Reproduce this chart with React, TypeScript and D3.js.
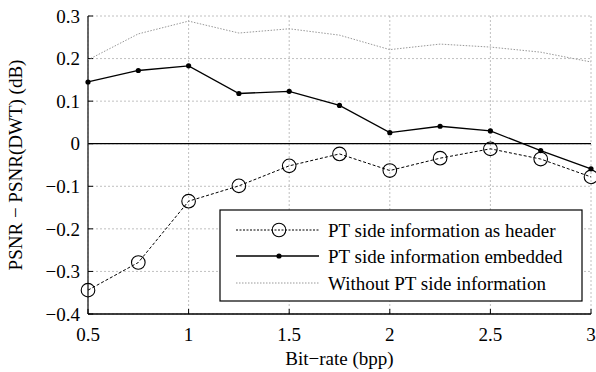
import React, { useEffect, useRef } from 'react';
import * as d3 from 'd3';

const bitRates = [0.5, 0.75, 1, 1.25, 1.5, 1.75, 2, 2.25, 2.5, 2.75, 3];
const asHeader = [-0.344, -0.279, -0.135, -0.099, -0.052, -0.024, -0.063, -0.034, -0.012, -0.036, -0.078];
const embedded = [0.145, 0.172, 0.183, 0.118, 0.123, 0.09, 0.026, 0.041, 0.03, -0.016, -0.059];
const withoutPT = [0.197, 0.258, 0.288, 0.26, 0.27, 0.255, 0.221, 0.234, 0.227, 0.215, 0.192];
const xTicks = [0.5, 1, 1.5, 2, 2.5, 3];
const yTicks = [-0.4, -0.3, -0.2, -0.1, 0, 0.1, 0.2, 0.3];
const legendNames = ['PT side information as header', 'PT side information embedded', 'Without PT side information'];

const W = 596, H = 372;
const m = { left: 88, right: 5, top: 16, bottom: 58 };
const font = "'Liberation Serif', 'DejaVu Serif', Times, serif";

function fmt(v: number) {
  const s = d3.format('.1~f')(Math.abs(v));
  return v < 0 ? '\u2212' + s : s;
}

export default function App() {
  const ref = useRef<SVGSVGElement>(null);

  useEffect(() => {
    const svg = d3.select(ref.current);
    svg.selectAll('*').remove();

    const x = d3.scaleLinear().domain([0.5, 3]).range([m.left, W - m.right]);
    const y = d3.scaleLinear().domain([-0.4, 0.3]).range([H - m.bottom, m.top]);
    const x0 = x.range()[0], x1 = x.range()[1], y0 = y.range()[0], y1 = y.range()[1];

    // grid
    const grid = svg.append('g').attr('stroke', '#b0b0b0').attr('stroke-width', 0.8).attr('stroke-dasharray', '2,2');
    xTicks.forEach(t => grid.append('line').attr('x1', x(t)).attr('x2', x(t)).attr('y1', y0).attr('y2', y1));
    yTicks.forEach(t => grid.append('line').attr('x1', x0).attr('x2', x1).attr('y1', y(t)).attr('y2', y(t)));

    // zero line
    svg.append('line').attr('x1', x0).attr('x2', x1).attr('y1', y(0)).attr('y2', y(0))
      .attr('stroke', '#000').attr('stroke-width', 1.2);

    // axes
    svg.append('line').attr('x1', x0).attr('x2', x0).attr('y1', y0).attr('y2', y1)
      .attr('stroke', '#444').attr('stroke-width', 1.6);
    svg.append('line').attr('x1', x0).attr('x2', x1).attr('y1', y0).attr('y2', y0)
      .attr('stroke', '#000').attr('stroke-width', 1.4);
    xTicks.forEach(t => svg.append('line').attr('x1', x(t)).attr('x2', x(t)).attr('y1', y0).attr('y2', y0 - 5)
      .attr('stroke', '#000').attr('stroke-width', 1));
    yTicks.forEach(t => svg.append('line').attr('x1', x0).attr('x2', x0 + 5).attr('y1', y(t)).attr('y2', y(t))
      .attr('stroke', '#000').attr('stroke-width', 1));

    const txt = svg.append('g').style('font-family', font).style('font-size', '19px').attr('fill', '#000');
    xTicks.forEach(t => txt.append('text').attr('x', x(t)).attr('y', y0 + 27).attr('text-anchor', 'middle').text(fmt(t)));
    yTicks.forEach(t => txt.append('text').attr('x', x0 - 8).attr('y', y(t)).attr('dy', '0.35em').attr('text-anchor', 'end').text(fmt(t)));
    txt.append('text').attr('x', (x0 + x1) / 2).attr('y', H - 7).attr('text-anchor', 'middle').text('Bit\u2212rate (bpp)');
    txt.append('text').attr('transform', `translate(22,${(y0 + y1) / 2}) rotate(-90)`).attr('text-anchor', 'middle')
      .text('PSNR \u2212 PSNR(DWT) (dB)');

    const line = d3.line<number>().x((_, i) => x(bitRates[i])).y(d => y(d));

    svg.append('path').attr('d', line(withoutPT)).attr('fill', 'none').attr('stroke', '#999')
      .attr('stroke-width', 1).attr('stroke-dasharray', '1.5,1.5');
    svg.append('path').attr('d', line(embedded)).attr('fill', 'none').attr('stroke', '#000').attr('stroke-width', 1.3);
    svg.selectAll('.dot').data(embedded).join('circle').attr('class', 'dot')
      .attr('cx', (_, i) => x(bitRates[i])).attr('cy', d => y(d)).attr('r', 2.6).attr('fill', '#000');
    svg.append('path').attr('d', line(asHeader)).attr('fill', 'none').attr('stroke', '#000')
      .attr('stroke-width', 1).attr('stroke-dasharray', '3,2');
    svg.selectAll('.circ').data(asHeader).join('circle').attr('class', 'circ')
      .attr('cx', (_, i) => x(bitRates[i])).attr('cy', d => y(d)).attr('r', 6.8)
      .attr('fill', 'none').attr('stroke', '#000').attr('stroke-width', 1.1);

    // legend
    const lg = svg.append('g');
    lg.append('rect').attr('x', 220).attr('y', 210).attr('width', 362).attr('height', 91)
      .attr('fill', '#fff').attr('stroke', '#000').attr('stroke-width', 1.2);
    const rows = [230, 256, 283];
    lg.append('line').attr('x1', 236).attr('x2', 319).attr('y1', rows[0]).attr('y2', rows[0])
      .attr('stroke', '#000').attr('stroke-width', 1).attr('stroke-dasharray', '2,1.5');
    lg.append('circle').attr('cx', 279).attr('cy', rows[0]).attr('r', 6.8).attr('fill', 'none').attr('stroke', '#000').attr('stroke-width', 1.1);
    lg.append('line').attr('x1', 236).attr('x2', 319).attr('y1', rows[1]).attr('y2', rows[1])
      .attr('stroke', '#000').attr('stroke-width', 1.3);
    lg.append('circle').attr('cx', 279).attr('cy', rows[1]).attr('r', 2.6).attr('fill', '#000');
    lg.append('line').attr('x1', 236).attr('x2', 319).attr('y1', rows[2]).attr('y2', rows[2])
      .attr('stroke', '#999').attr('stroke-width', 1).attr('stroke-dasharray', '1.5,1.5');
    legendNames.forEach((n, i) => lg.append('text').attr('x', 328).attr('y', rows[i]).attr('dy', '0.35em')
      .style('font-family', font).style('font-size', '19px').text(n));
  }, []);

  return (
    <svg ref={ref} width={W} height={H} style={{ position: 'absolute', left: 0, top: 0, background: '#fff' }} />
  );
}
